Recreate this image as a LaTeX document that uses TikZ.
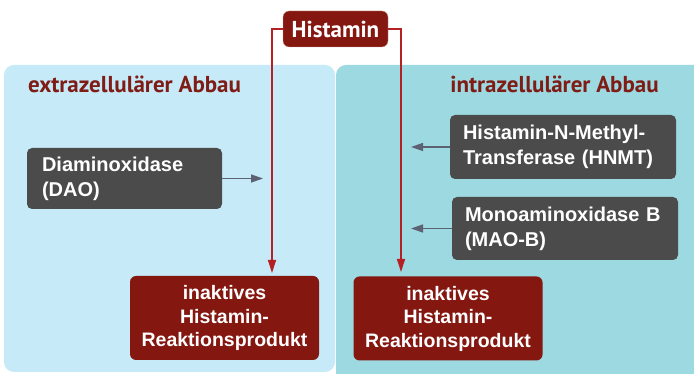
\documentclass[tikz,border=0pt]{standalone}
\usepackage{fontspec}
\setmainfont{Liberation Sans}
\newfontfamily\titlefont{PT Sans}
\usetikzlibrary{arrows.meta,positioning}
\definecolor{cpanelL}{HTML}{C6EAF8}
\definecolor{cpanelR}{HTML}{9DD9E1}
\definecolor{cdarkred}{HTML}{84170F}
\definecolor{ctitle}{HTML}{7E1C15}
\definecolor{cgraybox}{HTML}{4B4B4B}
\definecolor{cline}{HTML}{B52025}
\definecolor{carrow}{HTML}{5D6272}

\begin{document}
\begin{tikzpicture}[
    x=1pt, y=1pt,
    enzyme/.style={fill=cgraybox, rounded corners=5pt, text=white, align=left,
        font=\fontsize{20}{25}\selectfont\bfseries, inner xsep=15pt, inner ysep=0pt},
    product/.style={fill=cdarkred, rounded corners=6pt, text=white, align=center,
        font=\fontsize{19.5}{23.5}\selectfont\bfseries, inner sep=0pt,
        minimum width=189pt, minimum height=84pt},
    title/.style={font=\titlefont\fontsize{23}{26}\selectfont\bfseries, text=ctitle},
    redline/.style={draw=cline, line width=1.3pt, -{Triangle[length=13pt, width=8pt]}},
    grayarrow/.style={draw=carrow, line width=1.3pt, -{Triangle[length=12pt, width=8pt]}},
]
\useasboundingbox (0,0) rectangle (694,374);

% --- panels ---
\fill[cpanelL, rounded corners=10pt] (4,2) rectangle (335,309);
\fill[cpanelR, rounded corners=10pt] (336,-20) rectangle (714,309);
\node[title] (titleL) at (134.5,290) {extrazellulärer Abbau};
\node[title] (titleR) at (554.5,290) {intrazellulärer Abbau};

% --- Histamin ---
\node[fill=cdarkred, draw=cdarkred!40, rounded corners=6pt, text=white,
    font=\titlefont\fontsize{23}{24}\selectfont\bfseries,
    minimum width=105pt, minimum height=36pt, inner sep=0pt] (hist) at (335.5,345) {Histamin};

% --- enzymes ---
\node[enzyme, text width=165pt, minimum height=61pt, inner xsep=15pt] (dao) at (124.5,195.5) {Diaminoxidase\\(DAO)};
\node[enzyme, text width=200pt, minimum height=64pt, inner xsep=13pt] (hnmt) at (563,227) {Histamin-N-Methyl-\\Transferase (HNMT)};
\node[enzyme, text width=200pt, minimum height=63pt, inner xsep=13pt] (mao) at (565,145.5) {Monoaminoxidase B\\(MAO-B)};

% --- products ---
\node[product] (prodL) at (224.5,56) {inaktives\\Histamin-\\Reaktionsprodukt};
\node[product] (prodR) at (448,55.5) {inaktives\\Histamin-\\Reaktionsprodukt};

% arrow ends
\coordinate (tipL) at (272,101);
\coordinate (tipR) at (401,102);
\coordinate (daoEnd) at (263,196);
\coordinate (hnmtEnd) at (411,227);
\coordinate (maoEnd) at (411,146);

% --- connectors ---
\draw[redline] (hist.west) -| (tipL);
\draw[redline] (hist.east) -| (tipR);
\draw[grayarrow] (dao.east) -- (dao.east -| daoEnd);
\draw[grayarrow] (hnmt.west) -- (hnmt.west -| hnmtEnd);
\draw[grayarrow] (mao.west) -- (mao.west -| maoEnd);

\end{tikzpicture}
\end{document}
